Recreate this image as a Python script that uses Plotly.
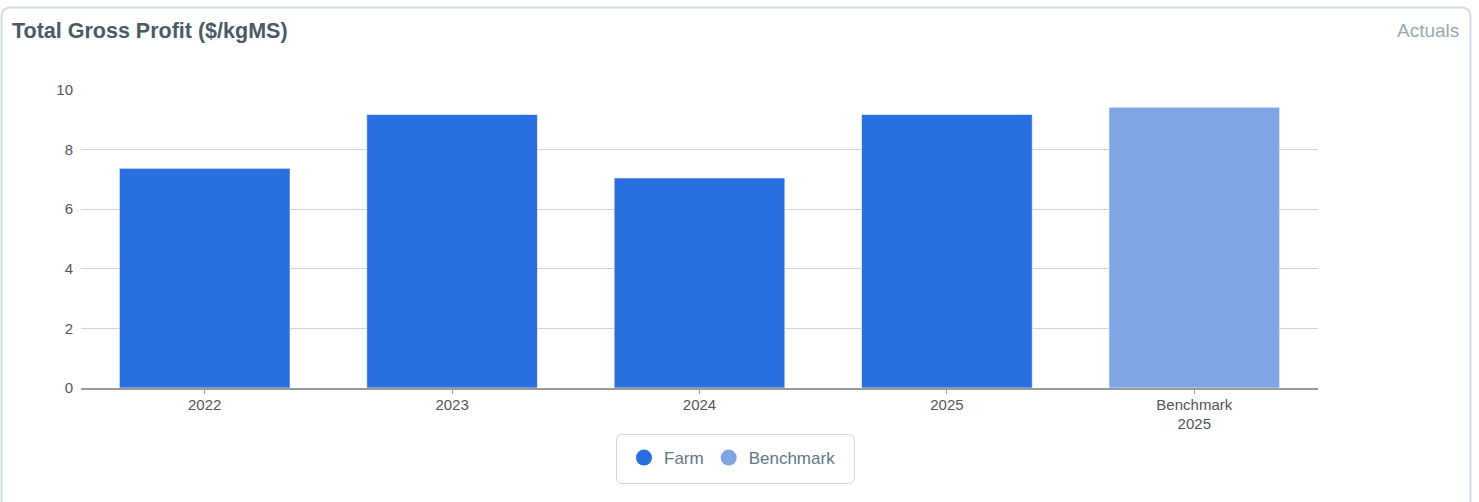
import plotly.graph_objects as go

# Gross profit per kg milk solids
categories = ["2022", "2023", "2024", "2025", "Benchmark<br>2025"]
profit = [7.37, 9.18, 7.05, 9.18, 9.42]
series = ["Farm", "Farm", "Farm", "Farm", "Benchmark"]
series_colors = {"Farm": "#2a6fdf", "Benchmark": "#7fa5e5"}

W, H = 1479, 502
ML, MR, MT, MB = 81, 161, 90, 114
PW, PH = W - ML - MR, H - MT - MB


def px(x):
    return (x - ML) / PW


def py(y):
    return (H - MB - y) / PH


def rounded_rect(x0, y0, x1, y1, r):
    # SVG path in paper coordinates built from pixel corners
    pts = [
        f"M {px(x0 + r)} {py(y0)}",
        f"L {px(x1 - r)} {py(y0)}",
        f"Q {px(x1)} {py(y0)} {px(x1)} {py(y0 + r)}",
        f"L {px(x1)} {py(y1 - r)}",
        f"Q {px(x1)} {py(y1)} {px(x1 - r)} {py(y1)}",
        f"L {px(x0 + r)} {py(y1)}",
        f"Q {px(x0)} {py(y1)} {px(x0)} {py(y1 - r)}",
        f"L {px(x0)} {py(y0 + r)}",
        f"Q {px(x0)} {py(y0)} {px(x0 + r)} {py(y0)}",
        "Z",
    ]
    return " ".join(pts)


fig = go.Figure()
fig.add_trace(go.Bar(
    x=categories,
    y=profit,
    marker=dict(color=[series_colors[s] for s in series],
                line=dict(color="rgba(255,255,255,0.6)", width=1)),
    showlegend=False,
    hoverinfo="x+y",
))

# Circle legend entries
for name in ["Farm", "Benchmark"]:
    fig.add_trace(go.Scatter(
        x=[None], y=[None], mode="markers", name=name,
        marker=dict(symbol="circle", size=18, color=series_colors[name]),
    ))

fig.update_layout(
    width=W, height=H,
    margin=dict(l=ML, r=MR, t=MT, b=MB),
    paper_bgcolor="white",
    plot_bgcolor="white",
    font=dict(family="Liberation Sans, Arial, sans-serif", size=15, color="#555"),
    bargap=0.31,
    xaxis=dict(
        showgrid=False, showline=True, linecolor="#999", linewidth=1.5,
        ticks="outside", ticklen=4, tickcolor="#999", ticklabelstandoff=-2,
        tickfont=dict(size=15, color="#555"),
    ),
    yaxis=dict(
        range=[0, 10], dtick=2, showgrid=True, gridcolor="#d0d4d8", gridwidth=1,
        zeroline=False, showline=False, ticks="", ticklabelstandoff=7,
        tickfont=dict(size=15, color="#555"),
    ),
    legend=dict(
        orientation="h", x=px(624), y=py(458), xanchor="left", yanchor="middle",
        font=dict(size=17, color="#5f7685"), bgcolor="rgba(0,0,0,0)",
        itemwidth=30,
    ),
    shapes=[
        dict(type="path", xref="paper", yref="paper",
             path=rounded_rect(1.5, 7.5, 1470.5, 540, 9),
             line=dict(color="#d3dce2", width=2), layer="below"),
        dict(type="path", xref="paper", yref="paper",
             path=rounded_rect(616.5, 434.5, 854.5, 483.5, 6),
             line=dict(color="#cfd8de", width=1), layer="below"),
    ],
    annotations=[
        dict(text="<b>Total Gross Profit ($/kgMS)</b>", xref="paper", yref="paper",
             x=px(10), y=py(31), xanchor="left", yanchor="middle", showarrow=False,
             font=dict(size=21.5, color="#4a5a66")),
        dict(text="Actuals", xref="paper", yref="paper",
             x=px(1461), y=py(31), xanchor="right", yanchor="middle", showarrow=False,
             font=dict(size=19, color="#9aa8b3")),
    ],
)

fig.write_html("out.html")
